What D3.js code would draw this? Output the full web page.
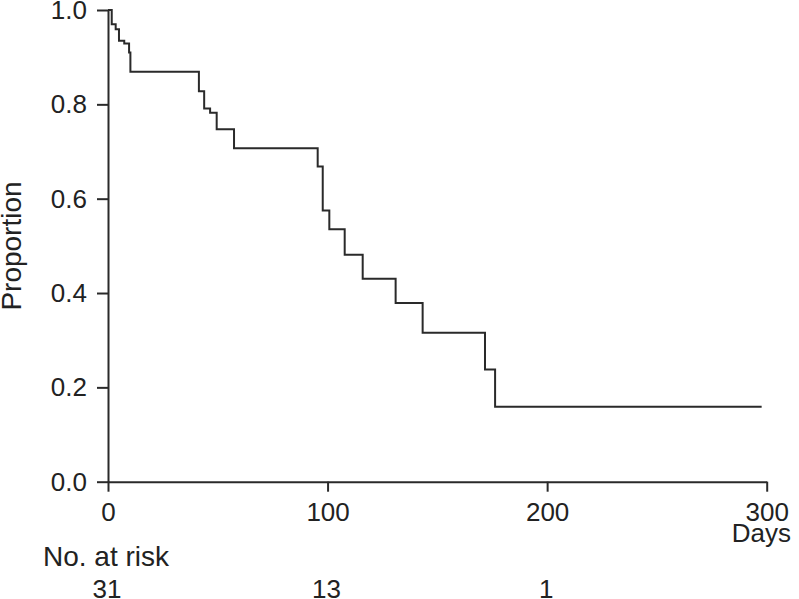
<!DOCTYPE html>
<html>
<head>
<meta charset="utf-8">
<script src="https://cdn.jsdelivr.net/npm/d3@7"></script>
<style>
  html, body { margin: 0; padding: 0; background: #fff; }
  svg { display: block; }
  text { font-family: "Liberation Sans", Arial, Helvetica, sans-serif; fill: #222; }
</style>
</head>
<body>
<svg id="chart" width="799" height="599"></svg>
<script>
// Kaplan-Meier step points: time (days) where each level starts, and the proportion at that level
const stepTimes = [0, 1.7, 3.5, 5.0, 7.4, 9.6, 10.2, 41.4, 43.8, 46.5, 49.5, 57.4, 95.5, 97.8, 100.8, 107.8, 116.0, 131.0, 143.3, 171.7, 176.3, 297.7];
const proportions = [1.0, 0.970, 0.959, 0.935, 0.929, 0.910, 0.869, 0.828, 0.791, 0.782, 0.747, 0.707, 0.668, 0.575, 0.535, 0.481, 0.430, 0.379, 0.316, 0.238, 0.159, 0.159];
const xTicks = [0, 100, 200, 300];
const yTicks = [0.0, 0.2, 0.4, 0.6, 0.8, 1.0];
const riskTimes = [0, 100, 200];
const riskCounts = [31, 13, 1];

const svg = d3.select("#chart");
const ink = "#2a2a2a";
const fs = 26;

const x = d3.scaleLinear().domain([0, 300]).range([108, 766.7]);
const y = d3.scaleLinear().domain([0, 1]).range([481.7, 10]);

// Y axis
const yAxis = svg.append("g")
  .attr("transform", `translate(${x(0)},0)`)
  .call(d3.axisLeft(y).tickValues(yTicks).tickFormat(d3.format(".1f")).tickSize(11).tickSizeOuter(0).tickPadding(10));
// X axis
const xAxis = svg.append("g")
  .attr("transform", `translate(0,${y(0)})`)
  .call(d3.axisBottom(x).tickValues(xTicks).tickFormat(d3.format("d")).tickSize(10).tickSizeOuter(0).tickPadding(11));

[yAxis, xAxis].forEach(g => {
  g.selectAll("path.domain").attr("stroke", ink).attr("stroke-width", 2);
  g.selectAll(".tick line").attr("stroke", ink).attr("stroke-width", 2);
  g.selectAll(".tick text").attr("font-size", fs).attr("fill", "#222")
    .attr("font-family", "'Liberation Sans', Arial, Helvetica, sans-serif");
});

// Survival curve
const pts = stepTimes.map((t, i) => [t, proportions[i]]);
svg.append("path")
  .datum(pts)
  .attr("fill", "none")
  .attr("stroke", ink)
  .attr("stroke-width", 2)
  .attr("d", d3.line().x(d => x(d[0])).y(d => y(d[1])).curve(d3.curveStepAfter));

// Y label
svg.append("text")
  .attr("transform", `translate(21,246) rotate(-90)`)
  .attr("text-anchor", "middle")
  .attr("font-size", 28)
  .text("Proportion");

// Days label
svg.append("text")
  .attr("x", 791).attr("y", 542)
  .attr("text-anchor", "end")
  .attr("font-size", 26)
  .text("Days");

// No. at risk
svg.append("text")
  .attr("x", 43).attr("y", 566)
  .attr("font-size", 28)
  .text("No. at risk");

svg.selectAll("text.risk")
  .data(riskTimes)
  .enter().append("text")
  .attr("class", "risk")
  .attr("x", d => x(d) - 1)
  .attr("y", 598)
  .attr("text-anchor", "middle")
  .attr("font-size", fs)
  .text((d, i) => riskCounts[i]);
</script>
</body>
</html>
